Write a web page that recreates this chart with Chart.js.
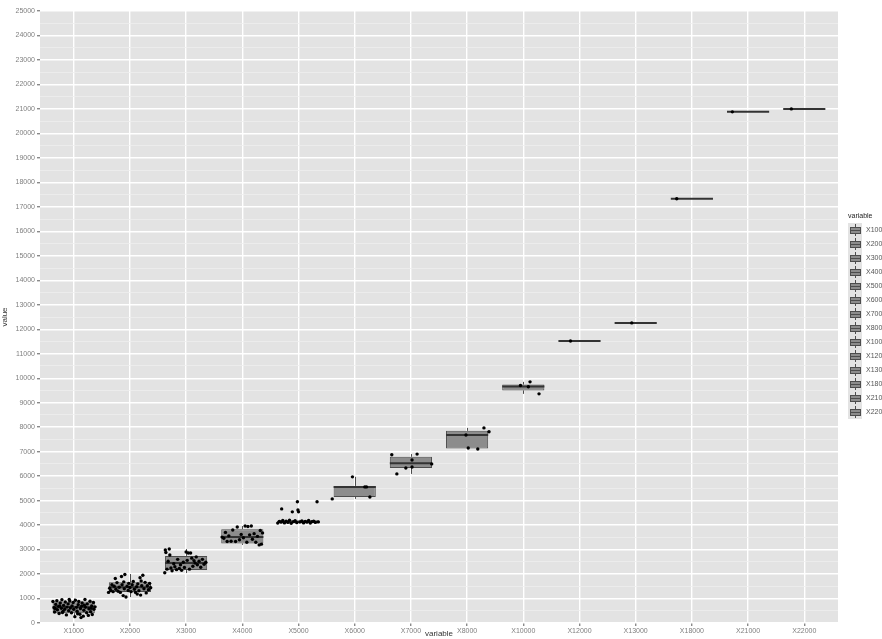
<!DOCTYPE html>
<html>
<head>
<meta charset="utf-8">
<script src="https://cdn.jsdelivr.net/npm/chart.js@4"></script>
<style>
  html, body { margin: 0; padding: 0; background: #fff; }
  canvas { display: block; }
</style>
</head>
<body>
<canvas id="chart" width="882" height="639"></canvas>
<script>
// categories on the x axis
const categories = ['X1000', 'X2000', 'X3000', 'X4000', 'X5000', 'X6000', 'X7000',
                    'X8000', 'X10000', 'X12000', 'X13000', 'X18000', 'X21000', 'X22000'];

// box statistics
const whiskerLow  = [200, 1060, 2040, 3190, 4060, 5070, 6090, 7110, 9360, 11520, 12260, 17330, 20880, 21000];
const q1          = [400, 1270, 2160, 3250, 4080, 5150, 6330, 7130, 9500, 11520, 12260, 17330, 20880, 21000];
const median      = [650, 1460, 2450, 3510, 4130, 5560, 6530, 7680, 9660, 11520, 12260, 17330, 20880, 21000];
const q3          = [880, 1660, 2740, 3830, 4200, 5600, 6790, 7850, 9740, 11520, 12260, 17330, 20880, 21000];
const whiskerHigh = [1000, 2000, 3020, 3960, 4210, 5970, 6900, 7970, 9850, 11520, 12260, 17330, 20880, 21000];

// y axis major ticks
const yTicks = [0, 1000, 2000, 3000, 4000, 5000, 6000, 7000, 8000, 9000, 10000, 11000, 12000,
                13000, 14000, 15000, 16000, 17000, 18000, 19000, 20000, 21000, 22000, 23000, 24000, 25000];

// jittered points: [horizontal offset in category units, value]
const jitterX1000 = [[-0.37,880],[-0.35,620],[-0.34,450],[-0.32,760],[-0.30,910],[-0.29,540],[-0.27,680],
  [-0.26,390],[-0.24,820],[-0.22,600],[-0.21,950],[-0.19,470],[-0.18,720],[-0.16,560],[-0.15,860],
  [-0.13,330],[-0.12,650],[-0.10,780],[-0.09,500],[-0.07,900],[-0.06,610],[-0.04,420],[-0.03,700],
  [-0.01,840],[0.00,560],[0.02,260],[0.03,930],[0.05,640],[0.06,480],[0.08,750],[0.09,880],[0.11,360],
  [0.12,590],[0.14,690],[0.15,820],[0.17,280],[0.18,520],[0.20,960],[0.21,640],[0.23,420],[0.24,780],
  [0.26,310],[0.27,580],[0.29,890],[0.30,460],[0.32,700],[0.33,350],[0.35,840],[0.36,560],[0.38,660],
  [-0.33,590],[-0.20,430],[-0.08,960],[0.07,380],[0.19,730],[0.31,600],[-0.25,700],[0.13,220]];
const jitterX2000 = [[-0.38,1250],[-0.36,1420],[-0.34,1330],[-0.32,1560],[-0.30,1280],[-0.28,1500],
  [-0.26,1820],[-0.25,1380],[-0.23,1650],[-0.21,1300],[-0.19,1460],[-0.17,1250],[-0.15,1900],[-0.14,1560],
  [-0.12,1120],[-0.10,1400],[-0.09,1980],[-0.07,1060],[-0.05,1500],[-0.03,1330],[-0.02,1620],[0.00,1450],
  [0.02,1280],[0.04,1560],[0.06,1700],[0.08,1380],[0.10,1250],[0.12,1480],[0.14,1600],[0.16,1320],
  [0.18,1850],[0.19,1140],[0.21,1520],[0.23,1950],[0.25,1400],[0.27,1660],[0.29,1230],[0.31,1520],
  [0.33,1360],[0.35,1620],[0.37,1440],[-0.11,1680],[0.13,1180],[0.20,1720]];
const jitterX3000 = [[-0.38,2050],[-0.37,2980],[-0.36,2880],[-0.34,2200],[-0.32,2520],[-0.30,3020],
  [-0.29,2780],[-0.27,2250],[-0.25,2130],[-0.22,2420],[-0.20,2300],[-0.17,2180],[-0.15,2600],[-0.12,2230],
  [-0.10,2380],[-0.08,2150],[-0.05,2480],[-0.03,2270],[0.00,2900],[0.02,2560],[0.04,2860],[0.06,2200],
  [0.08,2860],[0.10,2650],[0.12,2320],[0.14,2550],[0.16,2450],[0.18,2700],[0.20,2380],[0.23,2520],
  [0.26,2280],[0.29,2600],[0.32,2400],[0.35,2480]];
const jitterX4000 = [[-0.36,3510],[-0.33,3460],[-0.30,3700],[-0.27,3330],[-0.24,3560],[-0.20,3340],
  [-0.17,3800],[-0.12,3330],[-0.09,3920],[-0.05,3400],[-0.02,3620],[0.02,3480],[0.05,3960],[0.08,3300],
  [0.10,3940],[0.13,3600],[0.16,3960],[0.18,3420],[0.21,3650],[0.24,3300],[0.27,3540],[0.30,3190],
  [0.32,3780],[0.34,3220],[0.36,3680]];
const jitterX5000 = [[-0.37,4080],[-0.34,4150],[-0.31,4120],[-0.30,4660],[-0.28,4190],[-0.25,4090],
  [-0.22,4160],[-0.19,4110],[-0.16,4200],[-0.13,4070],[-0.11,4540],[-0.09,4140],[-0.06,4180],[-0.03,4100],
  [-0.02,4950],[-0.01,4620],[0.00,4540],[0.03,4130],[0.06,4170],[0.09,4090],[0.12,4150],[0.15,4120],
  [0.18,4190],[0.21,4080],[0.24,4140],[0.27,4160],[0.30,4110],[0.33,4950],[0.35,4130]];
const jitterX6000 = [[-0.40,5070],[-0.04,5970],[0.18,5560],[0.21,5560],[0.27,5150]];
const jitterX7000 = [[-0.34,6870],[0.11,6900],[0.02,6660],[-0.09,6330],[0.02,6370],[-0.25,6090],[0.37,6500]];
const jitterX8000 = [[-0.02,7680],[0.30,7970],[0.39,7810],[0.02,7150],[0.19,7110]];
const jitterX10000 = [[0.12,9850],[0.09,9650],[0.28,9360],[-0.05,9700]];
const jitterX12000 = [[-0.16,11520]];
const jitterX13000 = [[-0.07,12260]];
const jitterX18000 = [[-0.27,17330]];
const jitterX21000 = [[-0.28,20880]];
const jitterX22000 = [[-0.23,21000]];

const jitterSets = [jitterX1000, jitterX2000, jitterX3000, jitterX4000, jitterX5000, jitterX6000, jitterX7000,
                    jitterX8000, jitterX10000, jitterX12000, jitterX13000, jitterX18000, jitterX21000, jitterX22000];

Chart.defaults.font.family = '"Liberation Sans", Arial, sans-serif';

// grey panel behind the grid
const panelBg = {
  id: 'panelBg',
  beforeDraw(chart) {
    const { ctx, chartArea: a } = chart;
    ctx.save();
    ctx.fillStyle = '#E3E3E3';
    ctx.fillRect(a.left, a.top, a.right - a.left, a.bottom - a.top);
    ctx.restore();
  }
};

// whiskers and median lines, drawn right after the boxes
const boxParts = {
  id: 'boxParts',
  afterDatasetDraw(chart, args) {
    if (args.index !== 0) return;
    const { ctx, scales: { x, y } } = chart;
    ctx.save();
    categories.forEach((c, i) => {
      const cx = Math.round(x.getPixelForValue(i)) + 0.5;
      ctx.strokeStyle = '#4D4D4D';
      ctx.lineWidth = 1;
      ctx.beginPath();
      ctx.moveTo(cx, y.getPixelForValue(q3[i]));
      ctx.lineTo(cx, y.getPixelForValue(whiskerHigh[i]));
      ctx.moveTo(cx, y.getPixelForValue(q1[i]));
      ctx.lineTo(cx, y.getPixelForValue(whiskerLow[i]));
      ctx.stroke();
      ctx.strokeStyle = '#333333';
      ctx.lineWidth = 2;
      ctx.beginPath();
      ctx.moveTo(x.getPixelForValue(i - 0.375), y.getPixelForValue(median[i]));
      ctx.lineTo(x.getPixelForValue(i + 0.375), y.getPixelForValue(median[i]));
      ctx.stroke();
    });
    ctx.restore();
  }
};

// legend on the right
const legendBox = {
  id: 'legendBox',
  afterDraw(chart) {
    const ctx = chart.ctx;
    ctx.save();
    ctx.font = '7px "Liberation Sans", Arial, sans-serif';
    ctx.textBaseline = 'middle';
    ctx.fillStyle = '#222';
    ctx.fillText('variable', 848, 216);
    categories.forEach((c, i) => {
      const top = 223 + i * 14;
      ctx.fillStyle = '#E3E3E3';
      ctx.fillRect(848, top, 14, 14);
      ctx.strokeStyle = '#4D4D4D';
      ctx.lineWidth = 1;
      ctx.beginPath();
      ctx.moveTo(855.5, top + 1);
      ctx.lineTo(855.5, top + 13);
      ctx.stroke();
      ctx.fillStyle = '#8C8C8C';
      ctx.fillRect(850, top + 4, 11, 7);
      ctx.strokeRect(850.5, top + 4.5, 10, 6);
      ctx.beginPath();
      ctx.moveTo(850, top + 7.5);
      ctx.lineTo(861, top + 7.5);
      ctx.stroke();
      ctx.fillStyle = '#555';
      ctx.fillText(c, 866, top + 7.5);
    });
    ctx.restore();
  }
};

const boxData = categories.map((c, i) => ({ x: i, y: [q1[i], q3[i]] }));
const pointData = [];
jitterSets.forEach((set, i) => {
  set.forEach(p => pointData.push({ x: i + p[0], y: p[1] }));
});

new Chart(document.getElementById('chart'), {
  type: 'bar',
  data: {
    datasets: [{
      type: 'bar',
      data: boxData,
      backgroundColor: '#8C8C8C',
      borderColor: '#4D4D4D',
      borderWidth: 1,
      borderSkipped: false,
      barPercentage: 0.75,
      categoryPercentage: 1,
      order: 2
    }, {
      type: 'scatter',
      data: pointData,
      backgroundColor: '#000',
      borderWidth: 0,
      pointRadius: 1.7,
      order: 1
    }]
  },
  options: {
    responsive: false,
    animation: false,
    devicePixelRatio: 1,
    layout: { padding: { top: 11, right: 44, bottom: 0, left: 0 } },
    plugins: { legend: { display: false }, tooltip: { enabled: false } },
    scales: {
      x: {
        type: 'linear',
        min: -0.6,
        max: 13.6,
        offset: false,
        afterFit: s => { s.height = 16; },
        afterBuildTicks: s => { s.ticks = categories.map((c, i) => ({ value: i })); },
        grid: { offset: false, color: '#FFFFFF', lineWidth: 1.4, tickColor: '#8A8A8A', tickLength: 3, drawTicks: true },
        border: { display: false },
        ticks: {
          autoSkip: false,
          maxRotation: 0,
          padding: 1,
          color: '#7F7F7F',
          font: { size: 7 },
          callback: v => categories[v]
        },
        title: { display: true, text: 'variable', color: '#333', font: { size: 8 }, padding: 0 }
      },
      y: {
        min: 0,
        max: 25000,
        afterFit: s => { s.width = 40; },
        afterBuildTicks: s => {
          const t = [];
          yTicks.forEach((v, k) => {
            t.push({ value: v });
            if (k < yTicks.length - 1) t.push({ value: (v + yTicks[k + 1]) / 2 });
          });
          s.ticks = t;
        },
        grid: {
          color: c => (yTicks.includes(c.tick.value) ? '#FFFFFF' : '#EFEFEF'),
          lineWidth: c => (yTicks.includes(c.tick.value) ? 1.4 : 0.8),
          tickColor: c => (yTicks.includes(c.tick.value) ? '#8A8A8A' : 'rgba(0,0,0,0)'),
          tickLength: 3
        },
        border: { display: false },
        ticks: {
          autoSkip: false,
          padding: 2,
          color: '#7F7F7F',
          font: { size: 7 },
          callback: v => (yTicks.includes(v) ? String(v) : '')
        },
        title: { display: true, text: 'value', color: '#333', font: { size: 8 }, padding: 0 }
      }
    }
  },
  plugins: [panelBg, boxParts, legendBox]
});
</script>
</body>
</html>
